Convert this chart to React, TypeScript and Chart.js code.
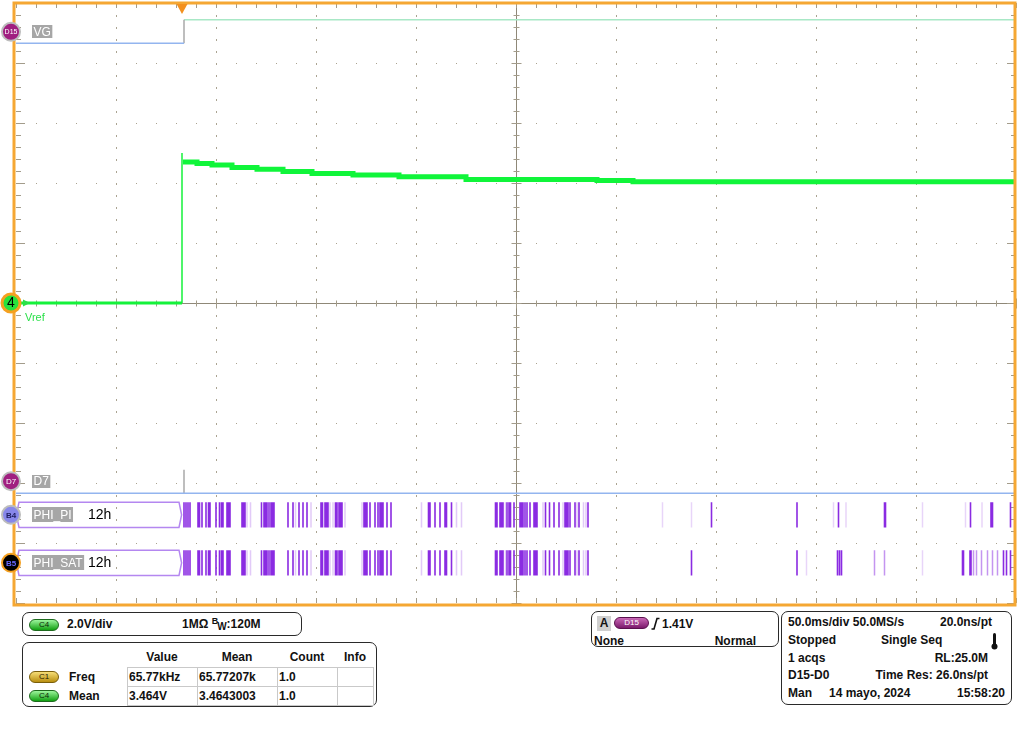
import React, { useEffect, useRef } from 'react';
import { Chart, registerables } from 'chart.js';

Chart.register(...registerables);

// ---- axes (50 ms/div, 2 V/div, 10 x 10 divisions) ----
const TIME_MIN = -83;
const TIME_MAX = 417;
const VOLT_MIN = -10;
const VOLT_MAX = 10;
const MINOR_T = 10;
const MINOR_V = 0.4;

// ---- analog channel C4 (Vref) ----
const preMs = [-83, 0];
const preV = [0, 0];
const stepMs = [0, 0];
const stepV = [0, 5.0];
const traceMs = [0.5, 7.5, 15, 25, 37.5, 50.5, 65, 85.5, 108.5, 142, 207.5, 225.5, 417];
const traceV = [4.7, 4.65, 4.6, 4.52, 4.46, 4.38, 4.32, 4.27, 4.21, 4.12, 4.08, 4.04, 4.04];

// ---- digital lanes (divisions from top) ----
const edgeMs = 1;
const vgLevels = [0.28, 0.67]; // high, low
const d7Levels = [7.78, 8.17]; // edge top, low
const phiPiLane = [8.32, 8.74];
const phiSatLane = [9.12, 9.54];
const laneLabels = ['VG', 'D7', 'PHI_PI', 'PHI_SAT'];
const laneLabelPos = [0.48, 7.97, 8.53, 9.33];
const busValue = '12h';

// ---- bus transitions (ms) ----
const sharedStrong = [1, 2, 3, 4, 8, 8.75, 10, 12, 13.25, 14, 17, 18.75, 19.75, 20.5, 22.5, 23.25, 24, 30, 30.75, 31.5,
  39.75, 41, 41.75, 42.5, 43.5, 44.5, 45.25, 46, 53, 55.5, 58.5, 60.5, 62.5, 69.5, 70.25, 71.5, 72.25, 73, 76.75, 77.5,
  78.5, 79.25, 80, 91, 91.75, 92.5, 94, 96.5, 98, 99, 99.75, 100.5, 102.5, 104.5, 123.25, 124, 126.5, 129, 131.5, 132.25,
  134.75, 156.75, 157.5, 159, 159.75, 160.5, 162.5, 163.5, 164.25, 166, 169, 169.75, 170.5, 171.5, 172.5, 174, 176,
  176.75, 177.5, 181.75, 183.75, 186, 188.5, 191.5, 192.25, 193, 194, 196.5, 198.5, 203];
const sharedFaint = [32.5, 34.25, 56.75, 64.5, 74, 75.5, 81.5, 90, 119.75, 137.25, 139.75, 161.75, 180.5, 190.5, 197.5,
  200.75, 202];
const piStrong = [264.75, 307.5, 328.25, 351.25, 351.75, 394.25, 404.5, 405.25, 414.25];
const piFaint = [240.25, 254.75, 325.75, 332, 370.25, 391.75, 400];
const satStrong = [254.75, 307.5, 327.75, 328.75, 329.75, 390.25, 390.75, 394, 394.5, 410.75, 412.25, 414.25];
const satMedium = [346.25, 351.25, 395.75, 397.25, 399.75, 402.75, 405.25, 407.75];
const satFaint = [312.25, 370.25];

const pts = (xs: number[], ys: number[]) => xs.map((x, i) => ({ x, y: ys[i] }));

function edgeSegments(times: number[], lane: number[]) {
  const out: any[] = [];
  for (const t of times) {
    out.push({ x: t, y: lane[0] }, { x: t, y: lane[1] }, { x: t, y: null });
  }
  return out;
}

function busBox(lane: number[]) {
  const mid = (lane[0] + lane[1]) / 2;
  return [
    { x: -82.8, y: mid }, { x: -81.5, y: lane[0] }, { x: -1.5, y: lane[0] }, { x: -0.2, y: mid },
    { x: -1.5, y: lane[1] }, { x: -81.5, y: lane[1] }, { x: -82.8, y: mid },
  ];
}

const PURPLE = (a: number) => `rgba(138,43,226,${a})`;

function laneDs(data: any[], color: string, width: number) {
  return { type: 'line', data, borderColor: color, borderWidth: width, pointRadius: 0, yAxisID: 'lane', tension: 0, spanGaps: false, fill: false };
}

const scopePlugin = {
  id: 'scope',
  beforeDatasetsDraw(chart: any) {
    const { ctx, chartArea: ca, scales } = chart;
    const x = scales.x, y = scales.y;
    ctx.save();
    const tCenter = TIME_MIN + 250;
    // dotted grid
    ctx.fillStyle = '#aaa391';
    for (let i = 1; i < 10; i++) {
      if (i === 5) continue;
      const px = Math.round(x.getPixelForValue(TIME_MIN + i * 50));
      for (let j = 1; j < 50; j++) {
        const py = Math.round(y.getPixelForValue(VOLT_MIN + j * MINOR_V));
        ctx.fillRect(px, py, 1, 2);
      }
    }
    for (let j = 1; j < 10; j++) {
      if (j === 5) continue;
      const py = Math.round(y.getPixelForValue(VOLT_MIN + j * 2));
      for (let i = 1; i < 50; i++) {
        const px = Math.round(x.getPixelForValue(TIME_MIN + i * MINOR_T));
        ctx.fillRect(px, py, 1, 1);
      }
    }
    // center cross
    ctx.strokeStyle = '#8f8878';
    ctx.lineWidth = 1;
    const cx = Math.round(x.getPixelForValue(tCenter)) + 0.5;
    const cy = Math.round(y.getPixelForValue(0)) + 0.5;
    const line = (a: number, b: number, c: number, d: number) => { ctx.beginPath(); ctx.moveTo(a, b); ctx.lineTo(c, d); ctx.stroke(); };
    line(cx, ca.top, cx, ca.bottom);
    line(ca.left, cy, ca.right, cy);
    ctx.strokeStyle = '#a39c8b';
    for (let i = 0; i <= 50; i++) {
      const px = Math.round(x.getPixelForValue(TIME_MIN + i * MINOR_T)) + 0.5;
      const len = i % 5 === 0 ? 5 : 3;
      line(px, cy - len, px, cy + len);
      line(px, ca.top, px, ca.top + 5);
      line(px, ca.bottom - 5, px, ca.bottom);
    }
    for (let j = 0; j <= 50; j++) {
      const py = Math.round(y.getPixelForValue(VOLT_MIN + j * MINOR_V)) + 0.5;
      const len = j % 5 === 0 ? 5 : 3;
      const el = j % 5 === 0 ? 9 : 5;
      line(cx - len, py, cx + len, py);
      line(ca.left, py, ca.left + el, py);
      line(ca.right - el, py, ca.right, py);
    }
    ctx.restore();
  },
  afterDatasetsDraw(chart: any) {
    const { ctx, chartArea: ca, scales } = chart;
    const x = scales.x, y = scales.y, lane = scales.lane;
    ctx.save();
    // orange frame
    ctx.strokeStyle = '#f5a733';
    ctx.lineWidth = 3;
    ctx.strokeRect(ca.left - 2, ca.top, ca.right - ca.left + 1, ca.bottom - ca.top + 2);
    // trigger marker
    const tx = x.getPixelForValue(0);
    ctx.fillStyle = '#f3901e';
    ctx.beginPath();
    ctx.moveTo(tx - 5.5, ca.top + 1); ctx.lineTo(tx + 5.5, ca.top + 1); ctx.lineTo(tx, ca.top + 11); ctx.closePath(); ctx.fill();

    // lane labels
    ctx.textBaseline = 'middle';
    ctx.font = '12px "Liberation Sans", Arial, sans-serif';
    laneLabels.forEach((lbl, i) => {
      const py = lane.getPixelForValue(laneLabelPos[i]);
      const w = ctx.measureText(lbl).width;
      const bh = i >= 2 ? 15 : 13;
      ctx.fillStyle = '#a6a6a6';
      ctx.fillRect(ca.left + 16, Math.round(py - bh / 2), w + 3, bh);
      ctx.fillStyle = '#ffffff';
      ctx.fillText(lbl, ca.left + 17.5, py + 0.5);
      if (i >= 2) {
        ctx.fillStyle = '#000';
        ctx.font = '14px "Liberation Sans", Arial, sans-serif';
        ctx.fillText(busValue, ca.left + 72, py + 0.5);
        ctx.font = '12px "Liberation Sans", Arial, sans-serif';
      }
    });
    // Vref label and arrow
    const y0 = y.getPixelForValue(0);
    ctx.fillStyle = '#2be04a';
    ctx.font = '11px "Liberation Sans", Arial, sans-serif';
    ctx.fillText('Vref', ca.left + 9, y0 + 15);
    ctx.beginPath();
    ctx.moveTo(ca.left + 7, y0 - 3.5); ctx.lineTo(ca.left + 14, y0); ctx.lineTo(ca.left + 7, y0 + 3.5); ctx.closePath(); ctx.fill();

    // channel markers
    const mk = (cy: number, fill: string, ring: string, rw: number, text: string, tc: string, font: string) => {
      ctx.beginPath();
      ctx.arc(11, cy, 9, 0, Math.PI * 2);
      ctx.fillStyle = fill; ctx.fill();
      ctx.lineWidth = rw; ctx.strokeStyle = ring; ctx.stroke();
      ctx.fillStyle = tc; ctx.font = font; ctx.textAlign = 'center';
      ctx.fillText(text, 11, cy + 0.5);
      ctx.textAlign = 'left';
    };
    const small = 'bold 8px "Liberation Sans", Arial, sans-serif';
    mk(lane.getPixelForValue(laneLabelPos[0]), '#a01f80', '#bdbdbd', 2, 'D15', '#fff', '7px "Liberation Sans", Arial, sans-serif');
    mk(y0, '#27e23c', '#f5a020', 3, '4', '#000', '14px "Liberation Sans", Arial, sans-serif');
    mk(lane.getPixelForValue(laneLabelPos[1]), '#a01f80', '#bdbdbd', 2, 'D7', '#fff', '8px "Liberation Sans", Arial, sans-serif');
    mk(lane.getPixelForValue(laneLabelPos[2]), '#8787ea', '#bdbdbd', 2, 'B4', '#1c1c5c', small);
    mk(lane.getPixelForValue(laneLabelPos[3]), '#000000', '#f5a020', 2, 'B5', '#6a6aff', small);
    ctx.restore();
  },
};

const Pill = ({ x, y, w, h, top, bottom, border, label, color }: any) => (
  <div style={{
    position: 'absolute', left: x, top: y, width: w, height: h, borderRadius: h / 2, boxSizing: 'border-box',
    background: `linear-gradient(to bottom, ${top}, ${bottom})`, border: `1px solid ${border}`,
    fontSize: 8, lineHeight: `${h - 2}px`, textAlign: 'center', color, fontWeight: 400,
  }}>{label}</div>
);

const T = ({ x, y, children, size = 12, bold = true, align = 'left', color = '#111' }: any) => (
  <div style={{
    position: 'absolute', left: x, top: y - 8, fontSize: size, lineHeight: '16px', fontWeight: bold ? 700 : 400, color,
    whiteSpace: 'nowrap', transform: align === 'right' ? 'translateX(-100%)' : align === 'center' ? 'translateX(-50%)' : undefined,
  }}>{children}</div>
);

const Box = ({ x, y, w, h }: any) => (
  <div style={{ position: 'absolute', left: x, top: y, width: w, height: h, border: '1px solid #2a2a2a', borderRadius: 7, boxSizing: 'border-box' }} />
);

const tableCols = [127, 197, 277, 337, 373];
const tableRows = [667, 686, 705];
const tableHeaders = ['Value', 'Mean', 'Count', 'Info'];
const tableHeaderX = [162, 237, 307, 355];
const measNames = ['Freq', 'Mean'];
const measValues = [['65.77kHz', '65.77207k', '1.0', ''], ['3.464V', '3.4643003', '1.0', '']];

export default function App() {
  const ref = useRef<HTMLCanvasElement>(null);
  useEffect(() => {
    document.body.style.margin = '0';
    const datasets: any[] = [
      laneDs(busBox(phiPiLane), '#b487f0', 1.5),
      laneDs(busBox(phiSatLane), '#b487f0', 1.5),
      laneDs(edgeSegments(sharedStrong, phiPiLane), PURPLE(1), 1.6),
      laneDs(edgeSegments(sharedFaint, phiPiLane), PURPLE(0.25), 1.5),
      laneDs(edgeSegments(piStrong, phiPiLane), PURPLE(1), 1.6),
      laneDs(edgeSegments(piFaint, phiPiLane), PURPLE(0.2), 1.5),
      laneDs(edgeSegments(sharedStrong, phiSatLane), PURPLE(1), 1.6),
      laneDs(edgeSegments(sharedFaint, phiSatLane), PURPLE(0.25), 1.5),
      laneDs(edgeSegments(satStrong, phiSatLane), PURPLE(1), 1.6),
      laneDs(edgeSegments(satMedium, phiSatLane), PURPLE(0.5), 1.5),
      laneDs(edgeSegments(satFaint, phiSatLane), PURPLE(0.2), 1.5),
      laneDs([{ x: TIME_MIN, y: vgLevels[1] }, { x: edgeMs, y: vgLevels[1] }], '#93b5ef', 1.5),
      laneDs([{ x: edgeMs, y: vgLevels[1] }, { x: edgeMs, y: vgLevels[0] }], '#a9a9a9', 1.5),
      laneDs([{ x: edgeMs, y: vgLevels[0] }, { x: TIME_MAX, y: vgLevels[0] }], '#a8e8c6', 1.5),
      laneDs([{ x: TIME_MIN, y: d7Levels[1] }, { x: TIME_MAX, y: d7Levels[1] }], '#93b5ef', 1.5),
      laneDs([{ x: edgeMs, y: d7Levels[0] }, { x: edgeMs, y: d7Levels[1] }], '#a9a9a9', 1.5),
      { type: 'line', data: pts(preMs, preV), borderColor: '#14f23a', borderWidth: 3, pointRadius: 0, yAxisID: 'y' },
      { type: 'line', data: pts(stepMs, stepV), borderColor: '#14f23a', borderWidth: 1.5, pointRadius: 0, yAxisID: 'y' },
      { type: 'line', data: pts(traceMs, traceV), borderColor: '#10f53a', borderWidth: 5, pointRadius: 0, yAxisID: 'y', stepped: true },
    ];
    const chart = new Chart(ref.current as HTMLCanvasElement, {
      type: 'line',
      data: { datasets },
      options: {
        responsive: false,
        maintainAspectRatio: false,
        animation: false,
        devicePixelRatio: 1,
        layout: { padding: { left: 16, right: 8, top: 3, bottom: 5 } },
        plugins: { legend: { display: false }, tooltip: { enabled: false } },
        events: [],
        scales: {
          x: { type: 'linear', min: TIME_MIN, max: TIME_MAX, display: false },
          y: { type: 'linear', min: VOLT_MIN, max: VOLT_MAX, display: false },
          lane: { type: 'linear', min: 0, max: 10, reverse: true, display: false },
        },
      } as any,
      plugins: [scopePlugin],
    } as any);
    return () => chart.destroy();
  }, []);

  const green = { top: '#9cf59c', bottom: '#12a012', border: '#1d6a1d', color: '#0a2a0a' };
  const yellow = { top: '#f7de77', bottom: '#b98f10', border: '#7a5e0a', color: '#2a2000' };

  return (
    <div style={{ position: 'absolute', left: 0, top: 0, width: 1024, height: 736, background: '#fff', overflow: 'hidden', fontFamily: '"Liberation Sans", Arial, sans-serif', color: '#111' }}>
      <canvas ref={ref} width={1024} height={608} style={{ position: 'absolute', left: 0, top: 0, width: 1024, height: 608 }} />

      {/* channel box */}
      <Box x={22} y={612} w={280} h={24} />
      <Pill x={29} y={619} w={30} h={12} {...green} label="C4" />
      <T x={67} y={624}>2.0V/div</T>
      <T x={182} y={624}>1MΩ <span style={{ fontSize: 9, position: 'relative', top: -4 }}>B</span><span style={{ fontSize: 10, position: 'relative', top: 2, marginLeft: -1 }}>W</span>:120M</T>

      {/* measurement box */}
      <Box x={22} y={642} w={355} h={65} />
      {tableHeaders.map((h, i) => <T key={h} x={tableHeaderX[i]} y={657} align="center">{h}</T>)}
      {tableRows.slice(0, 2).map((ry, r) => tableCols.slice(0, 4).map((cx, c) => (
        <div key={`${r}-${c}`} style={{ position: 'absolute', left: cx, top: ry, width: tableCols[c + 1] - cx + 1, height: tableRows[r + 1] - ry + 1, border: '1px solid #c9c9c9', boxSizing: 'border-box' }} />
      )))}
      {measValues.map((row, r) => row.map((v, c) => (
        <T key={`v${r}-${c}`} x={tableCols[c] + 2} y={(tableRows[r] + tableRows[r + 1]) / 2 + 0.5}>{v}</T>
      )))}
      <Pill x={29} y={671} w={30} h={12} {...yellow} label="C1" />
      <Pill x={29} y={690} w={30} h={12} {...green} label="C4" />
      {measNames.map((n, r) => <T key={n} x={69} y={(tableRows[r] + tableRows[r + 1]) / 2 + 0.5}>{n}</T>)}

      {/* trigger box */}
      <Box x={591} y={611} w={188} h={36} />
      <div style={{ position: 'absolute', left: 597, top: 616, width: 14, height: 15, background: '#cfcfcf', fontSize: 12, fontWeight: 700, lineHeight: '15px', textAlign: 'center' }}>A</div>
      <Pill x={614} y={617} w={35} h={12} top="#c968b6" bottom="#7c1a6c" border="#5a104e" color="#fff" label="D15" />
      <svg style={{ position: 'absolute', left: 651, top: 617 }} width="9" height="13"><path d="M0.5 12 H3 L6 1.5 H8.5" stroke="#111" strokeWidth="1.6" fill="none" /></svg>
      <T x={662} y={624}>1.41V</T>
      <T x={594} y={641}>None</T>
      <T x={756} y={641} align="right">Normal</T>

      {/* timebase box */}
      <Box x={781} y={611} w={231} h={94} />
      <T x={788} y={622}>50.0ms/div 50.0MS/s</T>
      <T x={992} y={622} align="right">20.0ns/pt</T>
      <T x={788} y={640}>Stopped</T>
      <T x={881} y={640}>Single Seq</T>
      <svg style={{ position: 'absolute', left: 990, top: 632 }} width="9" height="19">
        <rect x="3" y="1" width="3" height="13" rx="1.5" fill="#111" />
        <circle cx="4.5" cy="14.5" r="3" fill="#111" />
      </svg>
      <T x={788} y={658}>1 acqs</T>
      <T x={988} y={658} align="right">RL:25.0M</T>
      <T x={788} y={675}>D15-D0</T>
      <T x={988} y={675} align="right">Time Res: 26.0ns/pt</T>
      <T x={788} y={693}>Man</T>
      <T x={829} y={693}>14 mayo, 2024</T>
      <T x={1005} y={693} align="right">15:58:20</T>
    </div>
  );
}
